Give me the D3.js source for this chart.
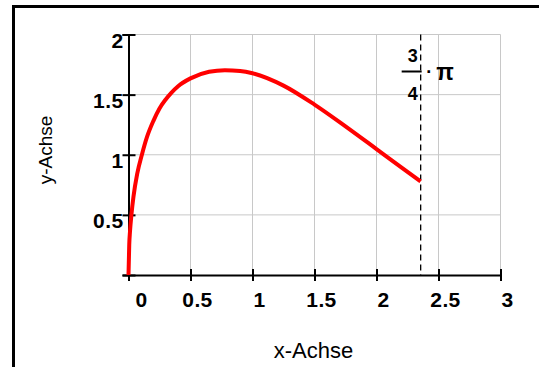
<!DOCTYPE html>
<html>
<head>
<meta charset="utf-8">
<script src="https://cdn.jsdelivr.net/npm/d3@7"></script>
<style>
  html, body { margin: 0; padding: 0; background: #fff; }
  svg { display: block; font-family: "Liberation Sans", Arial, sans-serif; }
</style>
</head>
<body>
<svg id="chart" width="539" height="367"></svg>
<script>
// ---- data ----
const curveX = [0, 0.006, 0.012, 0.024, 0.04, 0.07, 0.108, 0.15, 0.2, 0.25, 0.3, 0.345, 0.4, 0.5, 0.65, 0.777, 0.9, 1.0, 1.25, 1.5, 1.75, 2.0, 2.2, 2.356];
const curveY = [0, 0.255, 0.36, 0.505, 0.65, 0.84, 1.0, 1.15, 1.28, 1.385, 1.46, 1.515, 1.57, 1.635, 1.69, 1.703, 1.697, 1.678, 1.575, 1.417, 1.236, 1.047, 0.895, 0.778];
const xTicks = [0, 0.5, 1, 1.5, 2, 2.5, 3];
const xTickLabels = ["0", "0.5", "1", "1.5", "2", "2.5", "3"];
const yTicks = [0, 0.5, 1, 1.5, 2];
const yTickLabels = ["", "0.5", "1", "1.5", "2"];
const markerX = 3 * Math.PI / 4;
const xTitle = "x-Achse";
const yTitle = "y-Achse";

// ---- setup ----
const svg = d3.select("#chart");
const x = d3.scaleLinear().domain([0, 3]).range([128.5, 500.5]);
const y = d3.scaleLinear().domain([0, 2]).range([275, 34.5]);
const FONT = "'Liberation Sans', Arial, sans-serif";

// outer frame (top + left)
svg.append("path")
  .attr("d", "M13.5,367 L13.5,6.5 L539,6.5")
  .attr("fill", "none").attr("stroke", "#000").attr("stroke-width", 3);

// grid
const grid = svg.append("g").attr("stroke", "#c8c8c8").attr("stroke-width", 1).attr("fill", "none");
grid.selectAll("line.vx").data(xTicks.filter(d => d > 0)).join("line")
  .attr("x1", d => x(d)).attr("x2", d => x(d))
  .attr("y1", y(0)).attr("y2", y(2));
grid.selectAll("line.hy").data(yTicks.filter(d => d > 0)).join("line")
  .attr("x1", x(0)).attr("x2", x(3))
  .attr("y1", d => y(d)).attr("y2", d => y(d));

// dashed marker line at 3/4 pi
svg.append("line")
  .attr("x1", x(markerX)).attr("x2", x(markerX))
  .attr("y1", y(2)).attr("y2", y(0))
  .attr("stroke", "#000").attr("stroke-width", 1.3)
  .attr("stroke-dasharray", "6,4");

// axes
const xAxis = d3.axisBottom(x).tickValues(xTicks).tickSizeOuter(0).tickSize(6)
  .tickFormat((d, i) => xTickLabels[i]);
const gx = svg.append("g").attr("transform", `translate(0,${y(0)})`).call(xAxis);
gx.select(".domain").attr("stroke", "#000").attr("stroke-width", 2);
gx.selectAll(".tick line").attr("y1", -6).attr("y2", 6).attr("stroke", "#000").attr("stroke-width", 2);
gx.selectAll(".tick text")
  .attr("y", 0).attr("dy", 0)
  .attr("transform", (d) => `translate(${d === 0 ? 12.5 : 6.5},31.5)`)
  .attr("fill", "#000")
  .style("font-family", FONT)
  .style("font-size", "21px").style("font-weight", "bold").style("letter-spacing", "0.4px");

const yAxis = d3.axisLeft(y).tickValues(yTicks).tickSizeOuter(0).tickSize(6)
  .tickFormat((d, i) => yTickLabels[i]);
const gy = svg.append("g").attr("transform", `translate(${x(0)},0)`).call(yAxis);
gy.select(".domain").attr("stroke", "#000").attr("stroke-width", 2);
gy.selectAll(".tick line").attr("x1", -6).attr("x2", 7).attr("stroke", "#000").attr("stroke-width", 2);
gy.selectAll(".tick text")
  .attr("x", -5).attr("dy", 0).attr("y", 13)
  .attr("fill", "#000")
  .style("font-family", FONT)
  .style("font-size", "21px").style("font-weight", "bold").style("letter-spacing", "0.4px");

// curve
const pts = curveX.map((d, i) => [d, curveY[i]]);
const line = d3.line().x(d => x(d[0])).y(d => y(d[1])).curve(d3.curveMonotoneX);
svg.append("path").datum(pts)
  .attr("d", line)
  .attr("fill", "none").attr("stroke", "#ff0000").attr("stroke-width", 4)
  .attr("stroke-linejoin", "round");

// fraction label 3/4 · pi
const fx = x(markerX);
const lab = svg.append("g").attr("font-weight", "bold").attr("fill", "#000").style("font-family", FONT);
lab.append("text").attr("x", fx - 8).attr("y", 62).attr("text-anchor", "middle")
  .attr("font-size", "18px").text("3");
lab.append("line").attr("x1", fx - 19).attr("x2", fx + 1).attr("y1", 71.5).attr("y2", 71.5)
  .attr("stroke", "#000").attr("stroke-width", 2);
lab.append("text").attr("x", fx - 8).attr("y", 100).attr("text-anchor", "middle")
  .attr("font-size", "18px").text("4");
lab.append("text").attr("x", fx + 8.7).attr("y", 78).attr("text-anchor", "middle")
  .attr("font-size", "18px").text("·");
lab.append("text").attr("x", fx + 15.5).attr("y", 80).attr("font-size", "23px").text("π");

// axis titles
svg.append("text").attr("x", 313.5).attr("y", 358).attr("text-anchor", "middle")
  .attr("font-size", "22px").attr("fill", "#000").style("font-family", FONT).text(xTitle);
svg.append("text").attr("transform", "translate(52,150) rotate(-90)").attr("text-anchor", "middle")
  .attr("font-size", "19px").attr("fill", "#000").style("font-family", FONT).text(yTitle);
</script>
</body>
</html>
